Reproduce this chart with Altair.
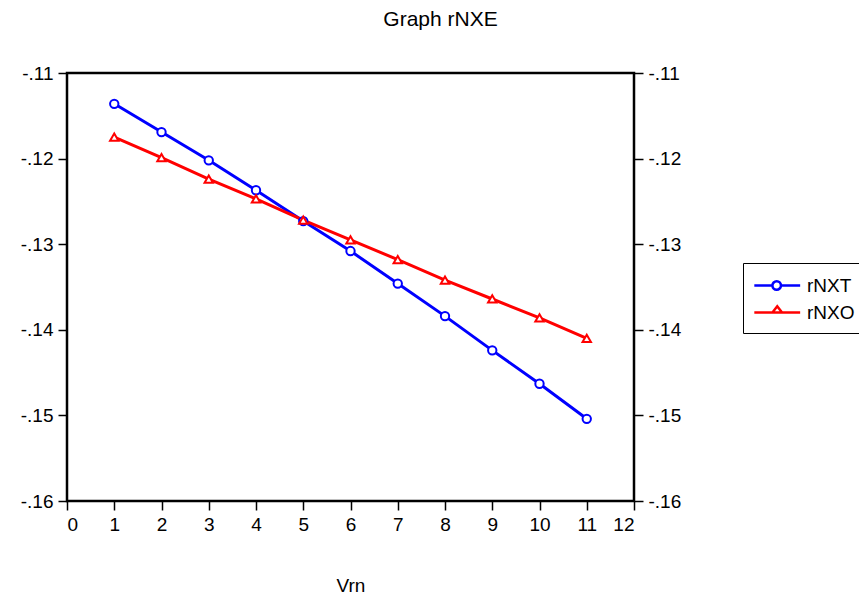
import altair as alt
import pandas as pd

# values
vrn = [1, 2, 3, 4, 5, 6, 7, 8, 9, 10, 11]
rnxt = [-0.1136, -0.1169, -0.1202, -0.1237, -0.1273, -0.1308,
        -0.1346, -0.1384, -0.1424, -0.1463, -0.1504]
rnxo = [-0.1175, -0.1199, -0.1224, -0.1247, -0.1272, -0.1295,
        -0.1318, -0.1342, -0.1364, -0.1386, -0.1410]
series = ["rNXT", "rNXO"]
colors = ["#0000ff", "#ff0000"]
x_ticks = list(range(0, 13))
y_ticks = [-0.16, -0.15, -0.14, -0.13, -0.12, -0.11]

df = pd.concat([
    pd.DataFrame({"Vrn": vrn, "value": rnxt, "series": "rNXT"}),
    pd.DataFrame({"Vrn": vrn, "value": rnxo, "series": "rNXO"}),
])

FONT = "Liberation Sans"
# EViews style labels: -.11
lab = "'-' + replace(format(abs(datum.value), '.2f'), '0.', '.')"

x_enc = alt.X(
    "Vrn:Q", title="Vrn",
    scale=alt.Scale(domain=[0, 12], nice=False),
    axis=alt.Axis(values=x_ticks, grid=False, tickSize=9, tickColor="black",
                  tickWidth=1.5, domain=False, labelFontSize=19,
                  labelColor="black", titleFontSize=19, titleFontWeight="normal",
                  titleColor="black", titlePadding=42, labelPadding=5),
)
y_scale = alt.Scale(domain=[-0.16, -0.11], nice=False)
y_enc = alt.Y(
    "value:Q", title=None, scale=y_scale,
    axis=alt.Axis(values=y_ticks, labelExpr=lab, grid=False, tickSize=9,
                  tickWidth=1.5, tickColor="black", domain=False,
                  labelFontSize=19, labelColor="black", labelPadding=5),
)
c_scale = alt.Scale(domain=series, range=colors)

lines = alt.Chart(df).mark_line(strokeWidth=3).encode(
    x=x_enc, y=y_enc,
    color=alt.Color("series:N", scale=c_scale, legend=None),
)

pts = alt.Chart(df).mark_point(filled=True, fill="white", size=70, strokeWidth=2,
                               opacity=1).encode(
    x="Vrn:Q", y="value:Q",
    stroke=alt.Stroke("series:N", scale=c_scale, legend=None),
    shape=alt.Shape("series:N",
                    scale=alt.Scale(domain=series, range=["circle", "triangle-up"]),
                    legend=None),
)

# legend symbols: a line stub with the marker in its middle
circ = ("M-1,0H0.62M1.38,0H3.1M1.38,0A0.38,0.38,0,1,1,0.62,0"
        "A0.38,0.38,0,1,1,1.38,0Z")
tri = "M-1,0H3.1M0.62,0L1.05,-0.55L1.48,0Z"
leg_cfg = dict(orient="none", legendX=676, legendY=190, title=None,
               strokeColor="black", padding=10, labelFontSize=19,
               labelColor="black", labelFont=FONT, symbolSize=500,
               symbolStrokeWidth=2.5, labelOffset=29, rowPadding=4)
leg = alt.Chart(df).transform_filter("false").mark_point(
    filled=False, strokeWidth=2.5, opacity=1).encode(
    x="Vrn:Q", y="value:Q",
    color=alt.Color("series:N", scale=c_scale, legend=alt.Legend(**leg_cfg)),
    shape=alt.Shape("series:N", scale=alt.Scale(domain=series, range=[circ, tri]),
                    legend=alt.Legend(**leg_cfg)),
)

main = alt.layer(lines, pts, leg).resolve_scale(
    color="independent", shape="independent", stroke="independent")

# right-hand copy of the value axis
right = alt.Chart(df).mark_line(opacity=0).encode(
    x="Vrn:Q",
    y=alt.Y("value:Q", scale=y_scale,
            axis=alt.Axis(orient="right", values=y_ticks, labelExpr=lab, grid=False,
                          tickSize=9, tickWidth=1.5, tickColor="black",
                          domain=False, labelFontSize=19, labelColor="black",
                          labelPadding=5, title=None)),
)

chart = (
    alt.layer(main, right)
    .resolve_scale(y="independent")
    .properties(
        width=567, height=428,
        background="white",
        autosize=alt.AutoSizeParams(type="none"),
        padding={"left": 59, "top": 65, "right": 225, "bottom": 95},
        title=alt.TitleParams("Graph rNXE", fontSize=21, fontWeight="normal",
                              font=FONT, color="black", anchor="middle",
                              dx=90, offset=34),
    )
    .configure_view(stroke="black", strokeWidth=2.5)
    .configure_axis(labelFont=FONT, titleFont=FONT)
)

chart.save("out.html", embed_options={"renderer": "svg", "actions": False})
